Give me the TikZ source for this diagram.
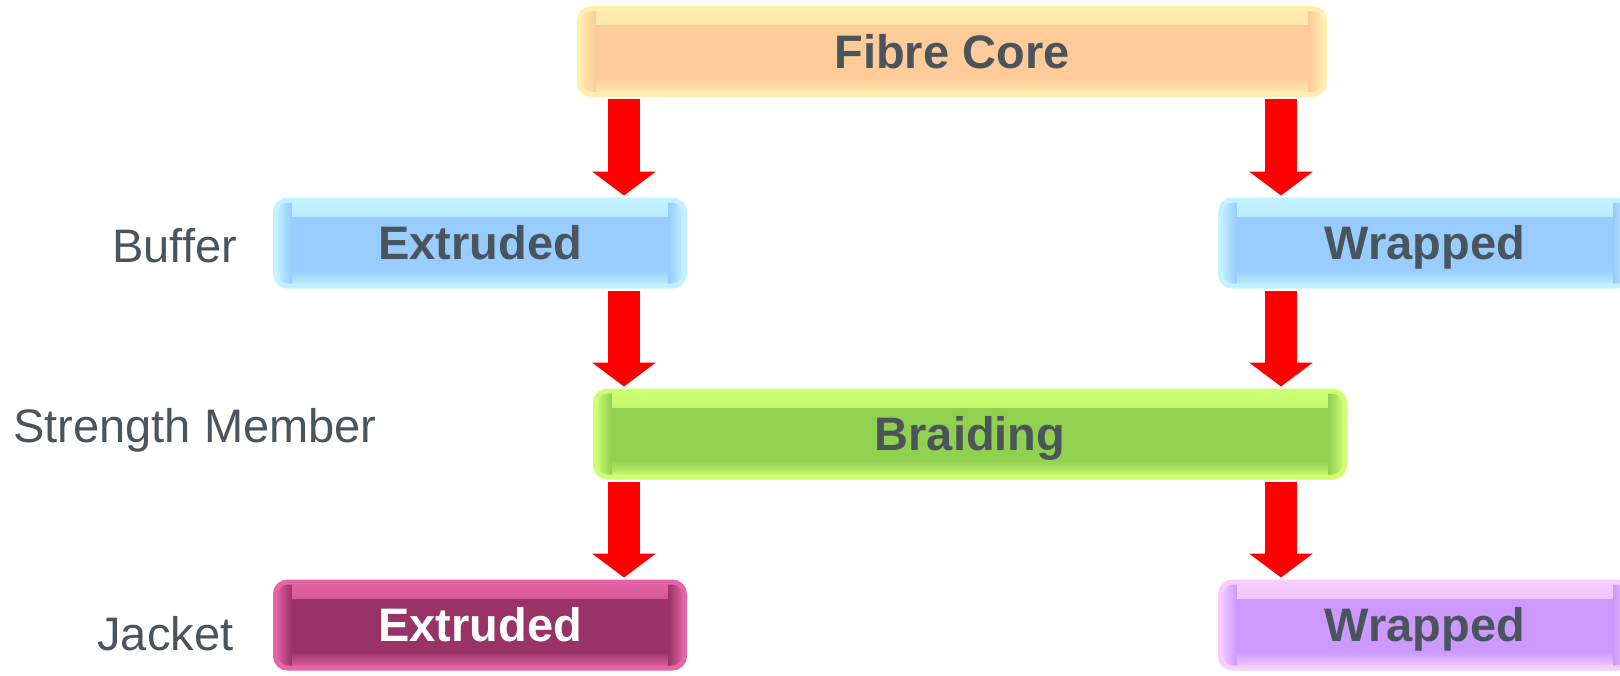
\documentclass[tikz,border=0pt]{standalone}
\usepackage{fontspec}
\setmainfont{Liberation Sans}
\usetikzlibrary{arrows.meta}

\definecolor{txtgray}{RGB}{74,84,92}
\definecolor{corefill}{RGB}{255,204,153}
\definecolor{coreglow}{RGB}{255,238,175}
\definecolor{buffill}{RGB}{153,204,255}
\definecolor{bufglow}{RGB}{195,242,255}
\definecolor{braidfill}{RGB}{146,208,80}
\definecolor{braidglow}{RGB}{205,255,115}
\definecolor{jackfill}{RGB}{153,51,102}
\definecolor{jackglow}{RGB}{228,100,165}
\definecolor{wrapfill}{RGB}{204,153,255}
\definecolor{wrapglow}{RGB}{248,205,255}

\tikzset{
  box/.style 2 args={draw=#2, line width=2.5pt, rounded corners=6pt, fill=#1,
    inner sep=0pt, minimum height=43pt, text=txtgray,
    text height=16.8pt, text depth=0pt,
    font=\bfseries\fontsize{23.5}{28}\selectfont,
    path picture={
      \shade[sharp corners, top color=#2, bottom color=#1] (path picture bounding box.north west) rectangle ([yshift=-8pt]path picture bounding box.north east);
      \shade[sharp corners, top color=#1, bottom color=#2] ([yshift=8pt]path picture bounding box.south west) rectangle (path picture bounding box.south east);
      \shade[sharp corners, left color=#2, right color=#1] (path picture bounding box.north west) rectangle ([xshift=8pt]path picture bounding box.south west);
      \shade[sharp corners, left color=#1, right color=#2] ([xshift=-8pt]path picture bounding box.north east) rectangle (path picture bounding box.south east);
    }},
  lbl/.style={anchor=base west, inner sep=0pt, text=txtgray, font=\fontsize{23.5}{28}\selectfont},
  bigarrow/.style={draw=red, line width=16pt, -{Triangle[width=32pt,length=12pt,line width=0pt]},
    shorten <=1pt, shorten >=1pt}
}

\begin{document}
\begin{tikzpicture}[x=0.5pt, y=-0.5pt]

  \useasboundingbox (0,0) rectangle (1620,675);
  \clip (0,0) rectangle (1620,675);

  % layers
  \node[box={corefill}{coreglow}, minimum width=372.5pt] (core) at (952,51.5) {Fibre Core};
  \node[box={buffill}{bufglow}, minimum width=204.5pt] (extbuf) at (480,243) {Extruded};
  \node[box={buffill}{bufglow}, minimum width=204.5pt] (wrapbuf) at (1425,243) {Wrapped};
  \node[box={braidfill}{braidglow}, minimum width=374.5pt] (braid) at (970,434) {Braiding};
  \node[box={jackfill}{jackglow}, minimum width=204.5pt, text=white] (extjack) at (480,625) {Extruded};
  \node[box={wrapfill}{wrapglow}, minimum width=204.5pt] (wrapjack) at (1425,625) {Wrapped};

  % row names
  \node[lbl] (buflbl) at (112,262) {Buffer};
  \node[lbl] (braidlbl) at (13,442) {Strength Member};
  \node[lbl] (jacklbl) at (97,650) {Jacket};

  % arrows
  \coordinate (lcol) at (624,0);
  \coordinate (rcol) at (1281,0);
  \draw[bigarrow] (core.south -| lcol) -- (extbuf.north -| lcol);
  \draw[bigarrow] (core.south -| rcol) -- (wrapbuf.north -| rcol);
  \draw[bigarrow] (extbuf.south -| lcol) -- (braid.north -| lcol);
  \draw[bigarrow] (wrapbuf.south -| rcol) -- (braid.north -| rcol);
  \draw[bigarrow] (braid.south -| lcol) -- (extjack.north -| lcol);
  \draw[bigarrow] (braid.south -| rcol) -- (wrapjack.north -| rcol);

\end{tikzpicture}
\end{document}
